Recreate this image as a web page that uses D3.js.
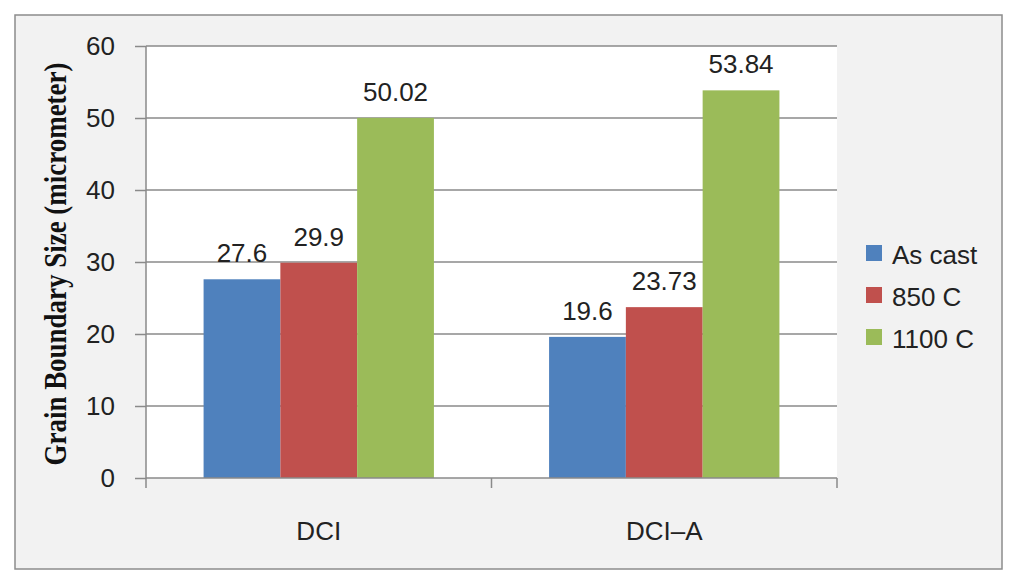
<!DOCTYPE html>
<html><head><meta charset="utf-8">
<script src="https://cdn.jsdelivr.net/npm/d3@7"></script>
<style>html,body{margin:0;padding:0;background:#fff}</style>
</head><body>
<svg id="c" width="1017" height="578"></svg>
<script>
const categories = ["DCI", "DCI\u2013A"];
const seriesNames = ["As cast", "850 C", "1100 C"];
const asCast = [27.6, 19.6];
const c850 = [29.9, 23.73];
const c1100 = [50.02, 53.84];
const valueLabels = [["27.6","19.6"],["29.9","23.73"],["50.02","53.84"]];
const yTicks = [0,10,20,30,40,50,60];
const colors = ["#4f81bd", "#c0504d", "#9bbb59"];
const series = [asCast, c850, c1100];

const svg = d3.select("#c");
const pL = 146, pR = 837, pT = 46, pB = 478;
const FF = "Liberation Sans, Arial, sans-serif";
const TC = "#222";

svg.append("rect").attr("x",15).attr("y",15).attr("width",987).attr("height",554)
  .attr("fill","#f2f2f2").attr("stroke","#8c8c8c").attr("stroke-width",1.5);
svg.append("rect").attr("x",pL).attr("y",pT).attr("width",pR-pL).attr("height",pB-pT).attr("fill","#fff");

const y = d3.scaleLinear().domain([0,60]).range([pB, pT]);
const x0 = d3.scaleBand().domain(categories).range([pL, pR]).paddingInner(0).paddingOuter(0);
const x1 = d3.scaleBand().domain(seriesNames).range([0, x0.bandwidth()]).paddingInner(0).paddingOuter(0.75);

const gc = "#8a8a8a";
svg.append("g").selectAll("line").data(yTicks.filter(d=>d>0)).join("line")
  .attr("x1",pL).attr("x2",pR).attr("y1",d=>y(d)).attr("y2",d=>y(d))
  .attr("stroke",gc).attr("stroke-width",1.5);

series.forEach((vals,si)=>{
  svg.append("g").selectAll("rect").data(vals).join("rect")
    .attr("x",(d,i)=>x0(categories[i]) + x1(seriesNames[si]))
    .attr("width",x1.bandwidth())
    .attr("y",d=>y(d)).attr("height",d=>y(0)-y(d))
    .attr("fill",colors[si]);
  svg.append("g").selectAll("text").data(vals).join("text")
    .attr("x",(d,i)=>x0(categories[i]) + x1(seriesNames[si]) + x1.bandwidth()/2)
    .attr("y",d=>y(d)-17)
    .attr("text-anchor","middle")
    .attr("font-family",FF).attr("font-size",26)
    .attr("fill",TC)
    .text((d,i)=>valueLabels[si][i]);
});

const yAxis = d3.axisLeft(y).tickValues(yTicks).tickSize(11).tickPadding(20);
const ga = svg.append("g").attr("transform",`translate(${pL},0)`).call(yAxis);
ga.select(".domain").attr("stroke",gc).attr("stroke-width",1.5).attr("d",`M0,${pT}V${pB}`);
ga.selectAll(".tick line").attr("stroke",gc).attr("stroke-width",1.5);
ga.selectAll(".tick text").attr("font-family",FF).attr("font-size",26).attr("fill",TC);

const xAxis = d3.axisBottom(x0).tickSize(0).tickPadding(44);
const gx = svg.append("g").attr("transform",`translate(0,${pB})`).call(xAxis);
gx.select(".domain").remove();
gx.append("line").attr("x1",pL).attr("x2",pR).attr("y1",0).attr("y2",0).attr("stroke",gc).attr("stroke-width",1.5);
const bounds = [pL, ...categories.map(c=>x0(c)+x0.bandwidth())];
gx.selectAll(".bt").data(bounds).join("line").attr("class","bt")
  .attr("x1",d=>d).attr("x2",d=>d).attr("y1",0).attr("y2",10).attr("stroke",gc).attr("stroke-width",1.5);
gx.selectAll(".tick text").attr("font-family",FF).attr("font-size",26).attr("fill",TC);

svg.append("text")
  .attr("transform","translate(66,264) rotate(-90)")
  .attr("text-anchor","middle")
  .attr("font-family","Liberation Serif, Times New Roman, serif").attr("font-weight","bold")
  .attr("font-size",32).attr("fill","#111")
  .attr("textLength",403).attr("lengthAdjust","spacingAndGlyphs")
  .text("Grain Boundary Size (micrometer)");

const lg = svg.append("g");
seriesNames.forEach((n,i)=>{
  const cy = 255 + i*42;
  lg.append("rect").attr("x",866).attr("y",cy-10).attr("width",16).attr("height",16).attr("fill",colors[i]);
  lg.append("text").attr("x",892).attr("y",cy+9).attr("font-family",FF)
    .attr("font-size",26).attr("fill",TC).text(n);
});
</script>
</body></html>
